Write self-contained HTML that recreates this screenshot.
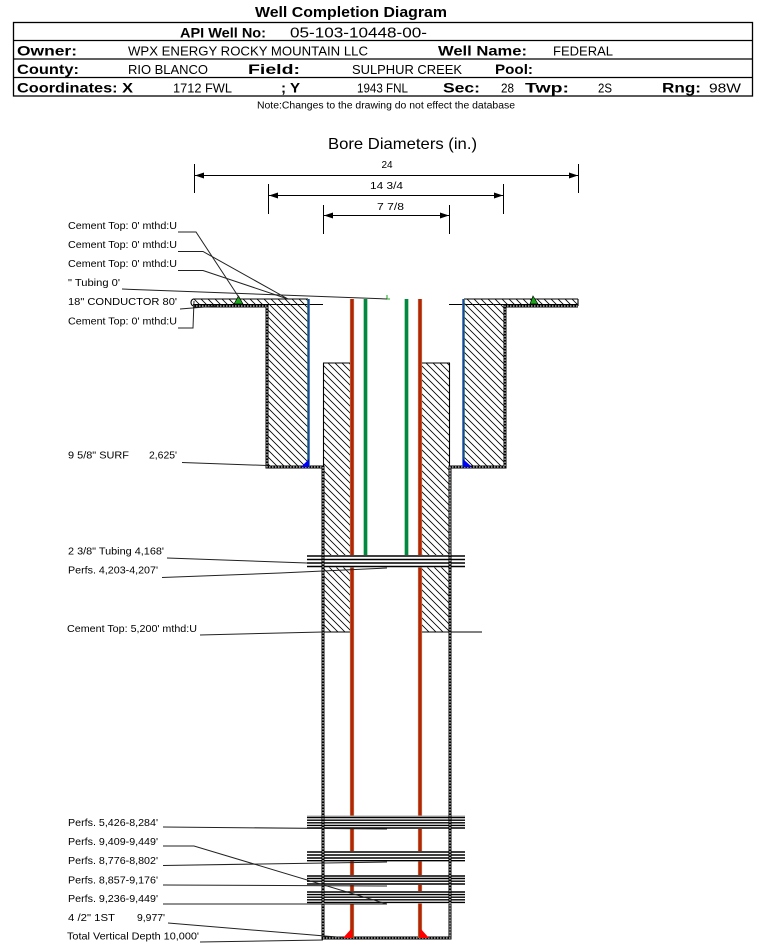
<!DOCTYPE html>
<html><head><meta charset="utf-8">
<style>
html,body{margin:0;padding:0;background:#fff;}
svg{display:block;}
text{font-family:"Liberation Sans",Arial,sans-serif;fill:#000;}
.b{font-weight:bold;}
</style></head><body>
<svg width="759" height="943" viewBox="0 0 759 943" xmlns="http://www.w3.org/2000/svg">
<defs>
<pattern id="h" patternUnits="userSpaceOnUse" width="7" height="7">
<path d="M0,0 L7,7 M-1,6 L1,8 M6,-1 L8,1" stroke="#000" stroke-width="0.8"/>
</pattern>
</defs>

<!-- Header -->
<text x="255" y="17" class="b" font-size="14.5" textLength="192" lengthAdjust="spacingAndGlyphs">Well Completion Diagram</text>
<rect x="13.5" y="22.5" width="739" height="73.5" fill="none" stroke="#000" stroke-width="1.3"/>
<line x1="13" y1="40.5" x2="752" y2="40.5" stroke="#000" stroke-width="1.3"/>
<line x1="13" y1="59" x2="752" y2="59" stroke="#000" stroke-width="1.3"/>
<line x1="13" y1="77.5" x2="752" y2="77.5" stroke="#000" stroke-width="1.3"/>

<text x="180" y="37.3" class="b" font-size="14" textLength="86" lengthAdjust="spacingAndGlyphs">API Well No:</text>
<text x="290" y="37.3" font-size="14.5" textLength="137" lengthAdjust="spacingAndGlyphs">05-103-10448-00-</text>

<text x="17" y="55.3" class="b" font-size="14" textLength="60" lengthAdjust="spacingAndGlyphs">Owner:</text>
<text x="128" y="55.3" font-size="13" textLength="240" lengthAdjust="spacingAndGlyphs">WPX ENERGY ROCKY MOUNTAIN LLC</text>
<text x="438" y="55.3" class="b" font-size="14" textLength="89" lengthAdjust="spacingAndGlyphs">Well Name:</text>
<text x="553" y="55.3" font-size="13" textLength="60" lengthAdjust="spacingAndGlyphs">FEDERAL</text>

<text x="17" y="74" class="b" font-size="14" textLength="62" lengthAdjust="spacingAndGlyphs">County:</text>
<text x="128" y="74" font-size="13" textLength="80" lengthAdjust="spacingAndGlyphs">RIO BLANCO</text>
<text x="248" y="74" class="b" font-size="14" textLength="52" lengthAdjust="spacingAndGlyphs">Field:</text>
<text x="352" y="74" font-size="13" textLength="110" lengthAdjust="spacingAndGlyphs">SULPHUR CREEK</text>
<text x="495" y="74" class="b" font-size="14" textLength="38" lengthAdjust="spacingAndGlyphs">Pool:</text>

<text x="17" y="92.5" class="b" font-size="14" textLength="116" lengthAdjust="spacingAndGlyphs">Coordinates: X</text>
<text x="173" y="92.5" font-size="13" textLength="59" lengthAdjust="spacingAndGlyphs">1712 FWL</text>
<text x="281" y="92.5" class="b" font-size="14" textLength="19" lengthAdjust="spacingAndGlyphs">; Y</text>
<text x="357" y="92.5" font-size="13" textLength="51" lengthAdjust="spacingAndGlyphs">1943 FNL</text>
<text x="443" y="92.5" class="b" font-size="14" textLength="37" lengthAdjust="spacingAndGlyphs">Sec:</text>
<text x="501" y="92.5" font-size="13" textLength="13" lengthAdjust="spacingAndGlyphs">28</text>
<text x="525" y="92.5" class="b" font-size="14" textLength="44" lengthAdjust="spacingAndGlyphs">Twp:</text>
<text x="598" y="92.5" font-size="13" textLength="14" lengthAdjust="spacingAndGlyphs">2S</text>
<text x="662" y="92.5" class="b" font-size="14" textLength="39" lengthAdjust="spacingAndGlyphs">Rng:</text>
<text x="709" y="92.5" font-size="13" textLength="32" lengthAdjust="spacingAndGlyphs">98W</text>

<text x="257" y="108.5" font-size="10" textLength="258" lengthAdjust="spacingAndGlyphs">Note:Changes to the drawing do not effect the database</text>

<!-- Bore diameters -->
<text x="328" y="149" font-size="16" textLength="149" lengthAdjust="spacingAndGlyphs">Bore Diameters (in.)</text>

<g stroke="#000" stroke-width="1">
<line x1="194" y1="175.5" x2="578" y2="175.5"/>
<line x1="194.5" y1="164" x2="194.5" y2="193"/>
<line x1="578.5" y1="164" x2="578.5" y2="193"/>
<line x1="268" y1="195.5" x2="503" y2="195.5"/>
<line x1="268.5" y1="184" x2="268.5" y2="214"/>
<line x1="503.5" y1="184" x2="503.5" y2="214"/>
<line x1="323" y1="215.5" x2="449" y2="215.5"/>
<line x1="323.5" y1="205" x2="323.5" y2="234"/>
<line x1="449.5" y1="205" x2="449.5" y2="234"/>
</g>
<g fill="#000">
<polygon points="195,175.5 204,172.5 204,178.5"/>
<polygon points="578,175.5 569,172.5 569,178.5"/>
<polygon points="269,195.5 278,192.5 278,198.5"/>
<polygon points="503,195.5 494,192.5 494,198.5"/>
<polygon points="324,215.5 333,212.5 333,218.5"/>
<polygon points="449,215.5 440,212.5 440,218.5"/>
</g>
<text x="387" y="168" font-size="10" text-anchor="middle">24</text>
<text x="370" y="189" font-size="10" textLength="33" lengthAdjust="spacingAndGlyphs">14 3/4</text>
<text x="377" y="210" font-size="10" textLength="27" lengthAdjust="spacingAndGlyphs">7 7/8</text>

<!-- Hatched cement -->
<g fill="url(#h)">
<rect x="193" y="299" width="115" height="6"/>
<rect x="464" y="299" width="114" height="6"/>
<rect x="267" y="305" width="41" height="162"/>
<rect x="464" y="305" width="41" height="162"/>
<rect x="323" y="363" width="28" height="269"/>
<rect x="420" y="363" width="30" height="269"/>
</g>

<!-- thin outlines -->
<g stroke="#000" stroke-width="1.1" fill="none">
<line x1="193" y1="299" x2="308" y2="299"/>
<line x1="464" y1="299" x2="578" y2="299"/>
<line x1="193" y1="304.5" x2="323" y2="304.5"/>
<line x1="449" y1="304.5" x2="578" y2="304.5"/>
<line x1="578" y1="299" x2="578" y2="306"/>
<path d="M194,299 A3,3.5 0 0 0 194,306"/>
<line x1="323" y1="363" x2="351" y2="363"/>
<line x1="420" y1="363" x2="450" y2="363"/>
<line x1="323.5" y1="363" x2="323.5" y2="467"/>
<line x1="449.5" y1="363" x2="449.5" y2="467"/>
<line x1="323" y1="632" x2="351" y2="632"/>
<line x1="420" y1="632" x2="482" y2="632"/>
</g>

<!-- hole outline (dotted double) -->
<path d="M193,306 H267 V467 H323 V938 H450 V467 H505 V306 H578" fill="none" stroke="#000" stroke-width="3"/>
<path d="M193,306 H267 V467 H323 V938 H450 V467 H505 V306 H578" fill="none" stroke="#fff" stroke-width="1" stroke-dasharray="1.5 1.5"/>

<!-- surface casing (blue) -->
<line x1="308.5" y1="299" x2="308.5" y2="467" stroke="#2a8a5a" stroke-width="2.6"/>
<line x1="308.5" y1="299" x2="308.5" y2="467" stroke="#1d3fb8" stroke-width="1.6"/>
<line x1="463.5" y1="299" x2="463.5" y2="467" stroke="#2a8a5a" stroke-width="2.6"/>
<line x1="463.5" y1="299" x2="463.5" y2="467" stroke="#1d3fb8" stroke-width="1.6"/>
<polygon points="301,467 309,467 309,459" fill="#0000ff"/>
<polygon points="463,459 463,467 472,467" fill="#0000ff"/>

<!-- production casing (red) -->
<line x1="352" y1="299" x2="352" y2="938" stroke="#3aa84a" stroke-width="4.2"/>
<line x1="352" y1="299" x2="352" y2="938" stroke="#ff0000" stroke-width="2.6"/>
<line x1="420" y1="299" x2="420" y2="938" stroke="#3aa84a" stroke-width="4.2"/>
<line x1="420" y1="299" x2="420" y2="938" stroke="#ff0000" stroke-width="2.6"/>
<polygon points="343,938 352,938 352,928" fill="#ff0000"/>
<polygon points="420,928 420,938 429,938" fill="#ff0000"/>

<!-- tubing (green) -->
<line x1="365.5" y1="299" x2="365.5" y2="557" stroke="#a8dcb0" stroke-width="5"/>
<line x1="365.5" y1="299" x2="365.5" y2="557" stroke="#008844" stroke-width="3"/>
<line x1="406.5" y1="299" x2="406.5" y2="557" stroke="#a8dcb0" stroke-width="5"/>
<line x1="406.5" y1="299" x2="406.5" y2="557" stroke="#008844" stroke-width="3"/>

<!-- perforations -->
<g fill="#fff">
<rect x="307" y="555" width="158" height="12.5"/>
<rect x="307" y="815.5" width="158" height="13.5"/>
<rect x="307" y="851" width="158" height="10.5"/>
<rect x="307" y="875" width="158" height="10"/>
<rect x="307" y="891" width="158" height="12.5"/>
</g>
<g stroke="#000" stroke-width="1.4">
<line x1="307" y1="556" x2="465" y2="556"/>
<line x1="307" y1="559.5" x2="465" y2="559.5"/>
<line x1="307" y1="563" x2="465" y2="563"/>
<line x1="307" y1="566.5" x2="465" y2="566.5"/>

<line x1="307" y1="817.5" x2="465" y2="817.5"/>
<line x1="307" y1="820.2" x2="465" y2="820.2"/>
<line x1="307" y1="822.8" x2="465" y2="822.8"/>
<line x1="307" y1="825.4" x2="465" y2="825.4"/>
<line x1="307" y1="828" x2="465" y2="828"/>

<line x1="307" y1="852" x2="465" y2="852"/>
<line x1="307" y1="855" x2="465" y2="855"/>
<line x1="307" y1="858" x2="465" y2="858"/>
<line x1="307" y1="860.7" x2="465" y2="860.7"/>

<line x1="307" y1="876" x2="465" y2="876"/>
<line x1="307" y1="878.5" x2="465" y2="878.5"/>
<line x1="307" y1="881.2" x2="465" y2="881.2"/>
<line x1="307" y1="884" x2="465" y2="884"/>

<line x1="307" y1="892" x2="465" y2="892"/>
<line x1="307" y1="894.6" x2="465" y2="894.6"/>
<line x1="307" y1="897.2" x2="465" y2="897.2"/>
<line x1="307" y1="899.8" x2="465" y2="899.8"/>
<line x1="307" y1="902.4" x2="465" y2="902.4"/>
</g>
<line x1="307" y1="816" x2="465" y2="816" stroke="#aaa" stroke-width="1"/>
<!-- hole border redraw through perfs -->
<line x1="323" y1="555" x2="323" y2="903" stroke="#000" stroke-width="3"/>
<line x1="450" y1="555" x2="450" y2="903" stroke="#000" stroke-width="3"/>
<line x1="323" y1="467" x2="323" y2="938" stroke="#fff" stroke-width="1" stroke-dasharray="1.5 1.5"/>
<line x1="450" y1="467" x2="450" y2="938" stroke="#fff" stroke-width="1" stroke-dasharray="1.5 1.5"/>

<!-- flange markers -->
<polygon points="234,304 243,304 238.5,296" fill="#1aa81a" stroke="#000" stroke-width="0.7"/>
<polygon points="530,304 538,304 533,296" fill="#1aa81a" stroke="#000" stroke-width="0.7"/>
<path d="M387,295 V299 H390" fill="none" stroke="#1aa81a" stroke-width="1"/>

<!-- label leader lines -->
<g stroke="#222" stroke-width="1" fill="none">
<polyline points="178,232 196,232 240,299"/>
<polyline points="178,251.5 203,251.5 288,299"/>
<polyline points="178,270.5 203,270.5 288,299"/>
<polyline points="122,289 387,299"/>
<polyline points="180,309 217,306"/>
<polyline points="178,328 193,328 194,301"/>
<polyline points="182,462.5 267,465.5"/>
<polyline points="167,558 307,563"/>
<polyline points="162,577.5 280,573 387,568"/>
<polyline points="200,635 323,632"/>
<polyline points="163,827 387,829"/>
<polyline points="163,846 194,846 387,904"/>
<polyline points="163,865.5 387,862"/>
<polyline points="163,885 387,886"/>
<polyline points="163,904 387,904"/>
<polyline points="168,923 343,937.5"/>
<polyline points="200,942 323,940"/>
</g>

<!-- labels -->
<g font-size="10.5">
<text x="68" y="229" textLength="109" lengthAdjust="spacingAndGlyphs">Cement Top: 0' mthd:U</text>
<text x="68" y="248" textLength="109" lengthAdjust="spacingAndGlyphs">Cement Top: 0' mthd:U</text>
<text x="68" y="267" textLength="109" lengthAdjust="spacingAndGlyphs">Cement Top: 0' mthd:U</text>
<text x="68" y="286" textLength="52" lengthAdjust="spacingAndGlyphs">" Tubing 0'</text>
<text x="68" y="305" textLength="109" lengthAdjust="spacingAndGlyphs">18" CONDUCTOR  80'</text>
<text x="68" y="324.5" textLength="109" lengthAdjust="spacingAndGlyphs">Cement Top: 0' mthd:U</text>
<text x="68" y="458.5" textLength="61" lengthAdjust="spacingAndGlyphs">9 5/8" SURF</text>
<text x="149" y="458.5" textLength="28" lengthAdjust="spacingAndGlyphs">2,625'</text>
<text x="68" y="554.5" textLength="96" lengthAdjust="spacingAndGlyphs">2 3/8" Tubing 4,168'</text>
<text x="68" y="573.5" textLength="90" lengthAdjust="spacingAndGlyphs">Perfs. 4,203-4,207'</text>
<text x="67" y="632" textLength="130" lengthAdjust="spacingAndGlyphs">Cement Top: 5,200' mthd:U</text>
<text x="68" y="826" textLength="90" lengthAdjust="spacingAndGlyphs">Perfs. 5,426-8,284'</text>
<text x="68" y="845" textLength="90" lengthAdjust="spacingAndGlyphs">Perfs. 9,409-9,449'</text>
<text x="68" y="864" textLength="90" lengthAdjust="spacingAndGlyphs">Perfs. 8,776-8,802'</text>
<text x="68" y="883.5" textLength="90" lengthAdjust="spacingAndGlyphs">Perfs. 8,857-9,176'</text>
<text x="68" y="902" textLength="90" lengthAdjust="spacingAndGlyphs">Perfs. 9,236-9,449'</text>
<text x="68" y="921" textLength="47" lengthAdjust="spacingAndGlyphs">4 /2" 1ST</text>
<text x="137" y="921" textLength="28" lengthAdjust="spacingAndGlyphs">9,977'</text>
<text x="67" y="939.5" textLength="132" lengthAdjust="spacingAndGlyphs">Total Vertical Depth 10,000'</text>
</g>
</svg>
</body></html>
